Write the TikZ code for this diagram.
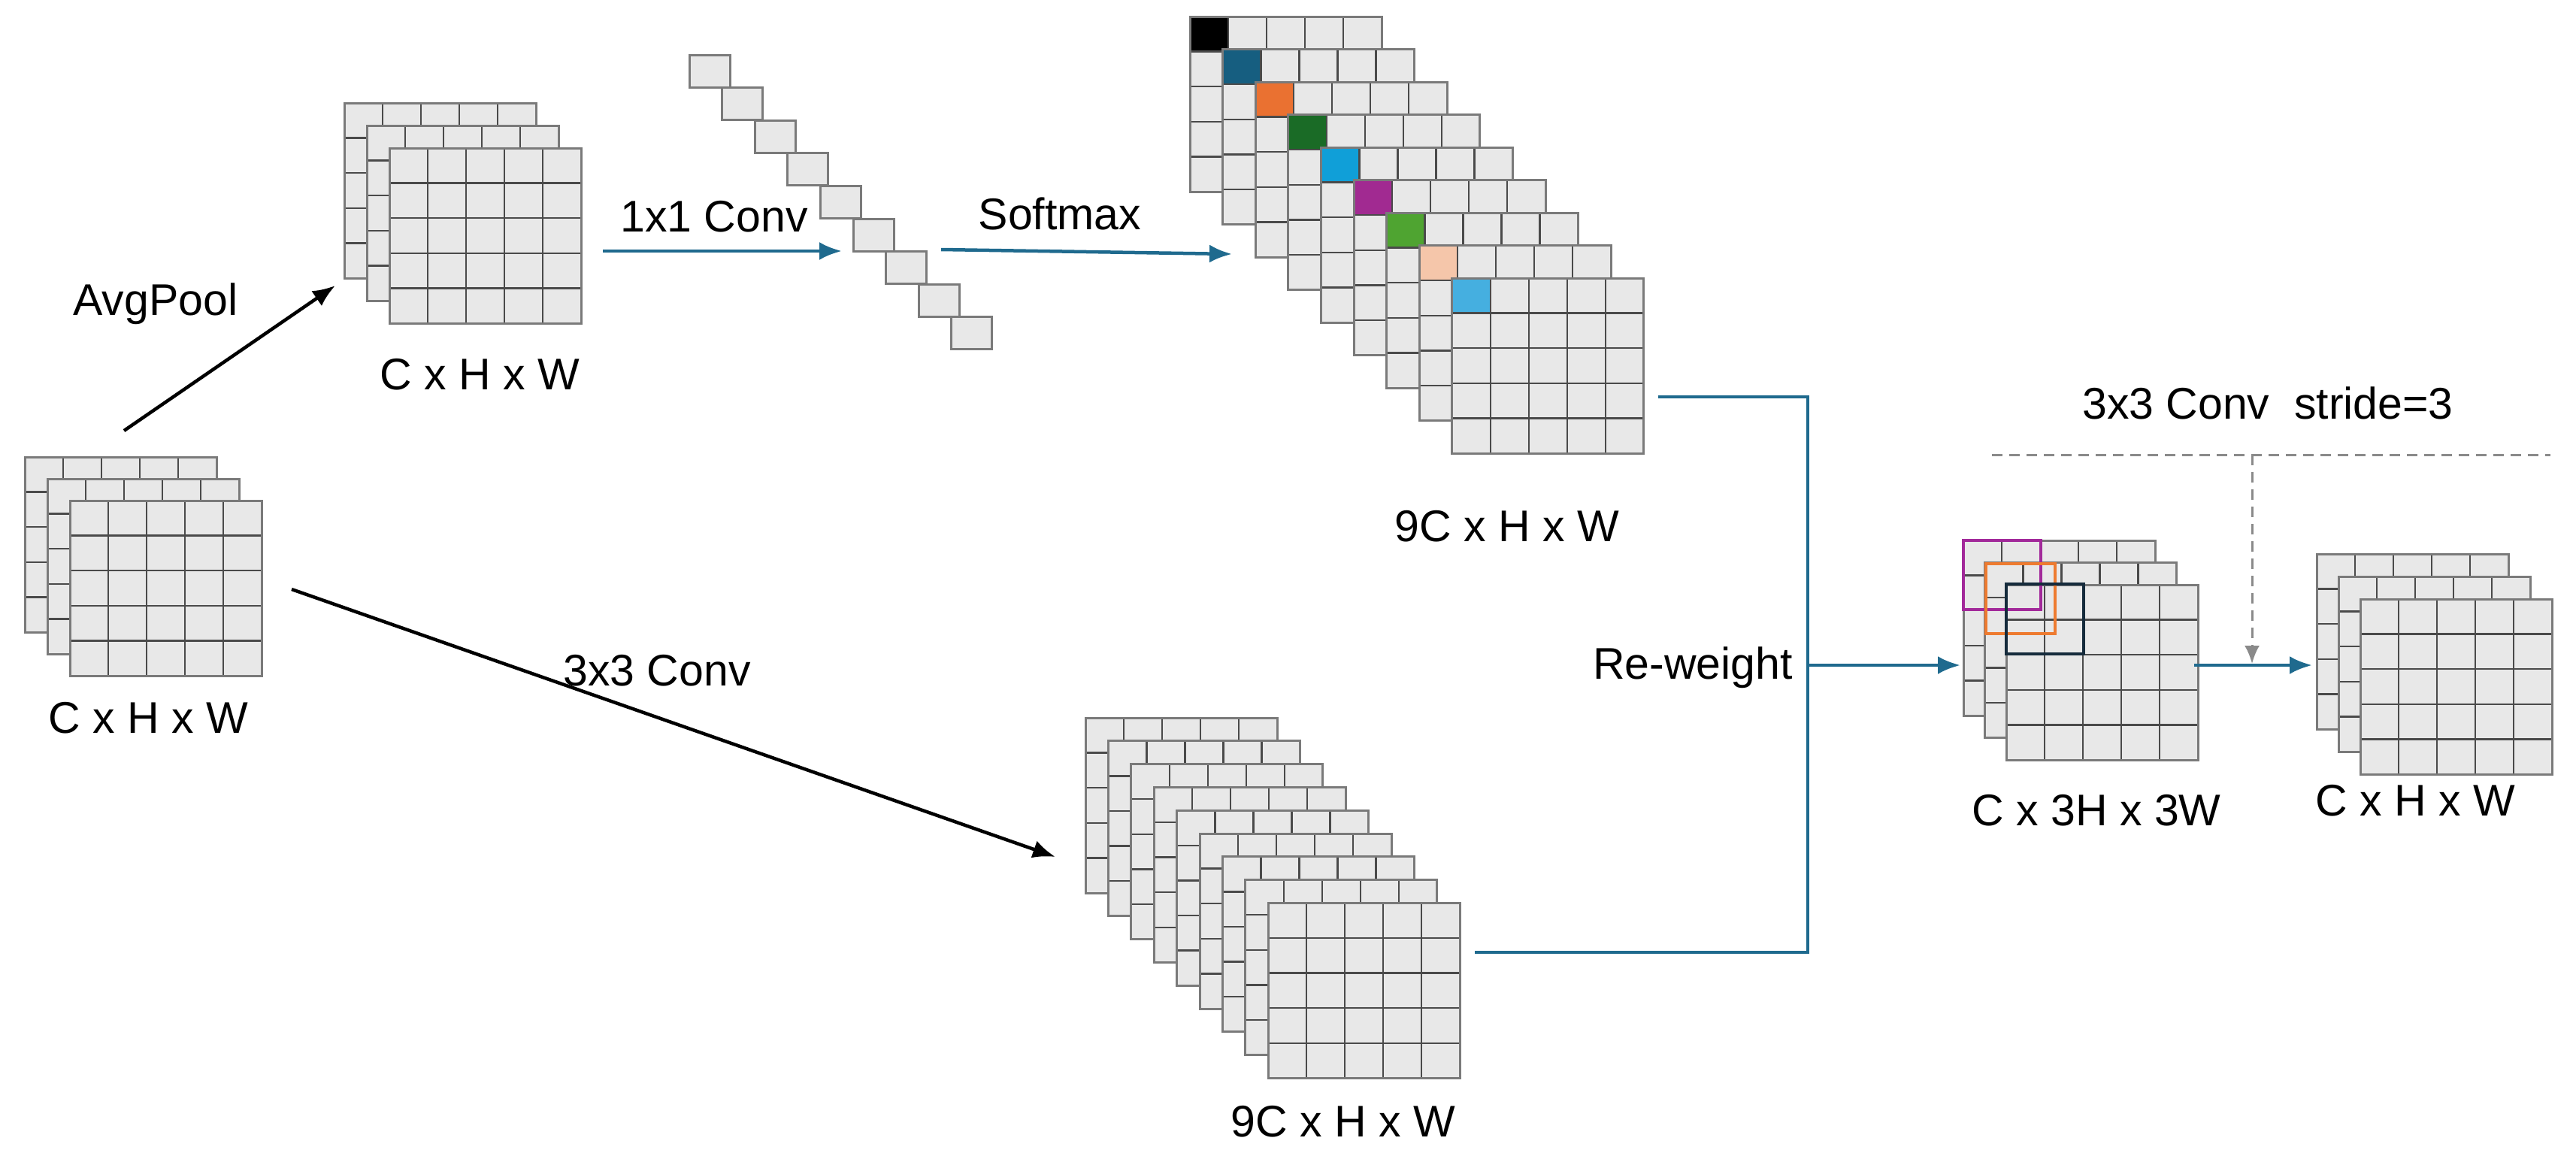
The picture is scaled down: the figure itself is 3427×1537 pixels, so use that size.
\documentclass[tikz,border=0pt]{standalone}
\usepackage{fontspec}
\setmainfont{Liberation Sans}
\usetikzlibrary{arrows.meta}
\definecolor{cellg}{HTML}{E8E8E8}
\definecolor{edgeg}{HTML}{7A7A7A}
\definecolor{lineg}{HTML}{4A4A4A}
\definecolor{flow}{HTML}{1F6A8E}
\definecolor{dgray}{HTML}{8A8A8A}
\newcommand\fmap[3]{%
  \filldraw[fill=cellg,draw=edgeg,line width=3pt] (#1,#2) rectangle ++(255,233);
  \if\relax\detokenize{#3}\relax\else
    \fill[#3] (#1,#2) rectangle ++(51,46.6);
  \fi
  \foreach \i in {1,...,4}{%
    \draw[lineg,line width=2.4pt] (#1+\i*51,#2) -- ++(0,233);
    \draw[lineg,line width=2.4pt] (#1,#2+\i*46.6) -- ++(255,0);}
  \draw[edgeg,line width=3pt] (#1,#2) rectangle ++(255,233);}
\tikzset{
  lbl/.style={font=\fontsize{59}{70}\selectfont, inner sep=0pt},
  blk/.style={line width=4.5pt,-{Latex[length=30pt,width=24pt]}},
  blu/.style={flow,line width=4.5pt,-{Latex[length=30pt,width=24pt]}},
  bluline/.style={flow,line width=4.5pt},
}
\begin{document}
\begin{tikzpicture}[x=1pt,y=-1pt]
\useasboundingbox (0,0) rectangle (3427,1537);
% left input stack
\foreach \k in {0,1,2}{\fmap{33+\k*30}{608+\k*29}{}}
\node[lbl] (lin) at (197,955) {C x H x W};
% avgpool stack
\foreach \k in {0,1,2}{\fmap{458+\k*30}{137+\k*30}{}}
\node[lbl] (lavg) at (638,498) {C x H x W};
% 1x1 column
\foreach \k in {0,...,8}{%
  \filldraw[fill=cellg,draw=edgeg,line width=3pt] (917+\k*43.6,73+\k*43.6) rectangle ++(54,43);}
% top 9C stack
\def\cols{{"black","c1","c2","c3","c4","c5","c6","c7","c8"}}
\definecolor{c1}{HTML}{165E80}\definecolor{c2}{HTML}{EA7131}
\definecolor{c3}{HTML}{1A6B26}\definecolor{c4}{HTML}{109FD8}
\definecolor{c5}{HTML}{A12A91}\definecolor{c6}{HTML}{4FA431}
\definecolor{c7}{HTML}{F5C6AA}\definecolor{c8}{HTML}{45AFE0}
\foreach \k/\c in {0/black,1/c1,2/c2,3/c3,4/c4,5/c5,6/c6,7/c7,8/c8}{\fmap{1583+\k*43.6}{22+\k*43.5}{\c}}
\node[lbl] (l9a) at (2005,700) {9C x H x W};
% bottom 9C stack
\foreach \k in {0,...,8}{\fmap{1444+\k*30.4}{955+\k*30.8}{}}
\node[lbl] (l9b) at (1787,1492) {9C x H x W};
% C x 3H x 3W
\foreach \k in {0,1,2}{\fmap{2612+\k*28.5}{719+\k*29.5}{}}
\draw[draw={rgb,255:red,162;green,41;blue,154},line width=4.5pt] (2612,719) rectangle (2715,811);
\draw[draw={rgb,255:red,238;green,123;blue,48},line width=4.5pt] (2642,750) rectangle (2734,843);
\draw[draw={rgb,255:red,21;green,43;blue,60},line width=4.5pt] (2669,777) rectangle (2772,870);
\node[lbl] (l3) at (2789,1078) {C x 3H x 3W};
% output stack
\foreach \k in {0,1,2}{\fmap{3082+\k*29}{737+\k*30}{}}
\node[lbl] (lout) at (3213,1065) {C x H x W};
% labels
\node[lbl] (tavg) at (207,404) {AvgPool};
\node[lbl] (t11) at (950,288) {1x1 Conv};
\node[lbl] (tsm) at (1410,284) {Softmax};
\node[lbl] (t33) at (874,892) {3x3 Conv};
\node[lbl,anchor=east] (trw) at (2385,888) {Re-weight};
\node[lbl] (tst) at (3017,536) {3x3 Conv\ \ stride=3};
% coordinates
\coordinate (a1) at (165,573); \coordinate (a2) at (446,380);
\coordinate (b1) at (388,784); \coordinate (b2) at (1404,1140);
\coordinate (c1) at (802,334); \coordinate (c2) at (1120,334);
\coordinate (d1) at (1252,332); \coordinate (d2) at (1639,338);
\coordinate (e1) at (2206,528); \coordinate (e2) at (2405,528);
\coordinate (e3) at (2405,1267); \coordinate (e4) at (1962,1267);
\coordinate (m1) at (2405,885); \coordinate (m2) at (2608,885);
\coordinate (o1) at (2919,885); \coordinate (o2) at (3076,885);
\coordinate (s1) at (2650,605); \coordinate (s2) at (3393,605);
\coordinate (s3) at (2996,605); \coordinate (s4) at (2996,883);
% connectors
\draw[blk] (a1) -- (a2);
\draw[blk] (b1) -- (b2);
\draw[blu] (c1) -- (c2);
\draw[blu] (d1) -- (d2);
\draw[bluline] (e1) -- (e2) -- (e3) -- (e4);
\draw[blu] (m1) -- (m2);
\draw[blu] (o1) -- (o2);
\draw[dgray,line width=3pt,dash pattern=on 14pt off 9pt] (s1) -- (s2);
\draw[dgray,line width=3pt,dash pattern=on 14pt off 9pt,-{Latex[length=24pt,width=20pt]}] (s3) -- (s4);
\end{tikzpicture}
\end{document}
